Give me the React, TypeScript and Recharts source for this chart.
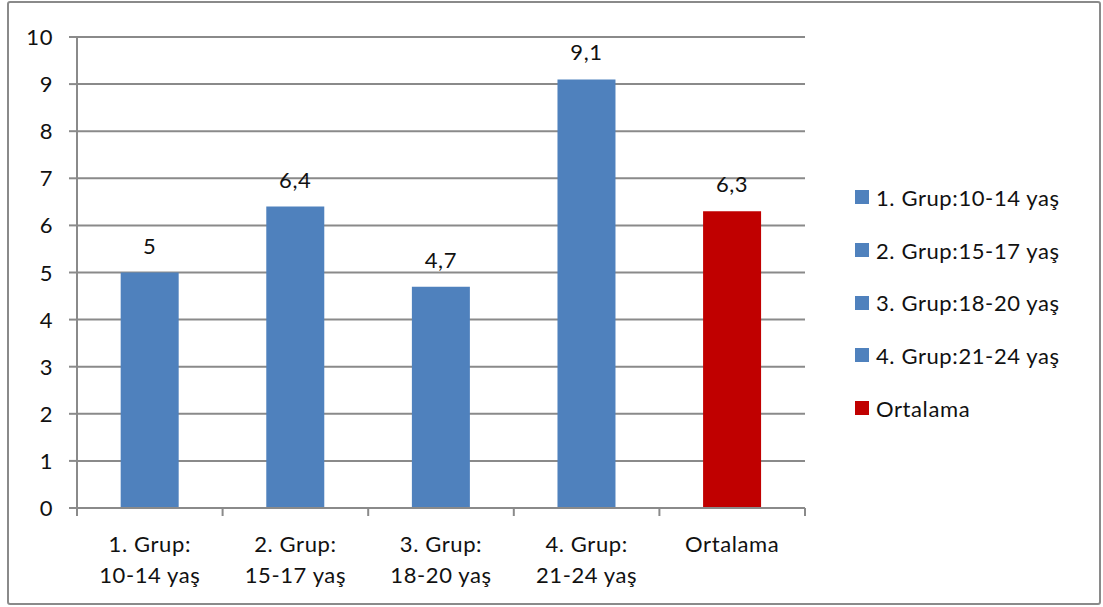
import { Bar, BarChart, CartesianGrid, Cell, LabelList, XAxis, YAxis } from 'recharts';

const categories = ['1. Grup:\n10-14 yaş', '2. Grup:\n15-17 yaş', '3. Grup:\n18-20 yaş', '4. Grup:\n21-24 yaş', 'Ortalama'];
const legendLabels = ['1. Grup:10-14 yaş', '2. Grup:15-17 yaş', '3. Grup:18-20 yaş', '4. Grup:21-24 yaş', 'Ortalama'];
const values = [5, 6.4, 4.7, 9.1, 6.3];
const barColors = ['#4F81BD', '#4F81BD', '#4F81BD', '#4F81BD', '#C00000'];
const yTicks = [0, 1, 2, 3, 4, 5, 6, 7, 8, 9, 10];

const data = categories.map((name, i) => ({ name, value: values[i], color: barColors[i] }));

const CHART_W = 1103;
const CHART_H = 607;
const MARGIN = { top: 37, right: 298, bottom: 0, left: 0 };
const Y_AXIS_W = 77;
const X_AXIS_H = 99;

const FONT = 'Lato, "Open Sans", sans-serif';
const FS = 22;
const LS = 0.6;
const GRAY = '#8a8a8a';
const INK = '#111';

function CategoryTick({ x, y, payload, index }: any) {
  const lines = String(payload.value).split('\n');
  const plotW = CHART_W - MARGIN.left - MARGIN.right - Y_AXIS_W;
  const half = payload.offset || plotW / categories.length / 2;
  const axisY = CHART_H - X_AXIS_H;
  const marks = [x - half];
  if (index === categories.length - 1) marks.push(x + half);
  return (
    <g>
      {marks.map((mx) => (
        <line key={mx} x1={mx} x2={mx} y1={axisY} y2={axisY + 8} stroke={GRAY} strokeWidth={2} />
      ))}
      <text x={x} y={y} textAnchor="middle" fontFamily={FONT} fontSize={FS} letterSpacing={LS} fill={INK}>
        {lines.map((l, i) => (
          <tspan key={i} x={x} dy={i === 0 ? 36 : 31}>
            {l}
          </tspan>
        ))}
      </text>
    </g>
  );
}

function ValueTick({ x, y, payload }: any) {
  return (
    <text x={x} y={y} dy={8} textAnchor="end" fontFamily={FONT} fontSize={FS} letterSpacing={LS} fill={INK}>
      {payload.value}
    </text>
  );
}

const fmt = (v: any) => String(v).replace('.', ',');

export default function App() {
  return (
    <div style={{ position: 'absolute', left: 0, top: 0, width: CHART_W, height: CHART_H, background: '#fff' }}>
      <div
        style={{
          position: 'absolute',
          left: 7,
          top: 1,
          width: 1090,
          height: 600,
          border: `2px solid ${GRAY}`,
          borderRadius: 3,
        }}
      />
      <div style={{ position: 'absolute', left: 0, top: 0 }}>
        <BarChart width={CHART_W} height={CHART_H} data={data} margin={MARGIN} barCategoryGap="30%">
          <CartesianGrid horizontal vertical={false} stroke={GRAY} strokeWidth={2} />
          <XAxis
            dataKey="name"
            height={X_AXIS_H}
            interval={0}
            tick={<CategoryTick />}
            tickLine={false}
            axisLine={{ stroke: GRAY, strokeWidth: 2 }}
          />
          <YAxis
            width={Y_AXIS_W}
            domain={[0, 10]}
            ticks={yTicks}
            interval={0}
            tickSize={8}
            tickMargin={16}
            tickLine={{ stroke: GRAY, strokeWidth: 2 }}
            axisLine={{ stroke: GRAY, strokeWidth: 2 }}
            tick={<ValueTick />}
          />
          <Bar dataKey="value" isAnimationActive={false}>
            {data.map((d) => (
              <Cell key={d.name} fill={d.color} />
            ))}
            <LabelList
              dataKey="value"
              position="top"
              offset={19}
              formatter={fmt}
              style={{ fontFamily: FONT, fontSize: FS, letterSpacing: LS, fill: INK }}
            />
          </Bar>
        </BarChart>
      </div>
      <div
        style={{
          position: 'absolute',
          left: 855,
          top: 171,
          fontFamily: FONT,
          fontSize: FS,
          letterSpacing: LS,
          color: INK,
        }}
      >
        {legendLabels.map((label, i) => (
          <div key={label} style={{ display: 'flex', alignItems: 'center', height: 52.7 }}>
            <span
              style={{ width: 14, height: 14, background: barColors[i], marginRight: 7, display: 'inline-block' }}
            />
            {label}
          </div>
        ))}
      </div>
    </div>
  );
}
